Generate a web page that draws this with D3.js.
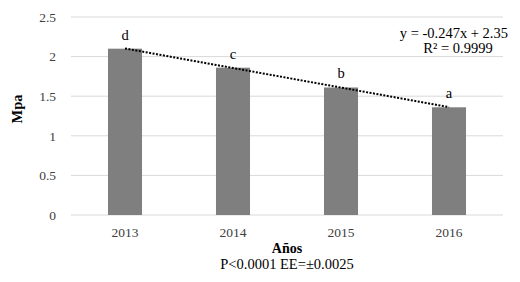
<!DOCTYPE html>
<html>
<head>
<meta charset="utf-8">
<script src="https://cdn.jsdelivr.net/npm/d3@7"></script>
<style>
  body { margin: 0; background: #fff; }
</style>
</head>
<body>
<div id="chart"></div>
<script>
// data
const years = ["2013", "2014", "2015", "2016"];
const mpa = [2.10, 1.86, 1.61, 1.36];
const letters = ["d", "c", "b", "a"];
const yTicks = [0, 0.5, 1, 1.5, 2, 2.5];
const trend = {slope: -0.247, intercept: 2.35};

const serif = "'Liberation Serif', 'DejaVu Serif', 'Times New Roman', serif";

//dimensions
const margin = {top: 17, right: 17, bottom: 67, left: 71},
    width = 520 - margin.left - margin.right,
    height = 282 - margin.top - margin.bottom;

const svg = d3.select("#chart")
    .append("svg")
    .attr("width", 520)
    .attr("height", 282)
    .attr("font-family", serif)
    .append("g")
    .attr("transform", `translate(${margin.left},${margin.top})`);

//scales
const x = d3.scaleBand()
    .domain(years)
    .range([0, width])
    .paddingInner(0.685)
    .paddingOuter(0.3425);

const y = d3.scaleLinear()
    .domain([0, 2.5])
    .range([height, 0]);

//gridlines
svg.append("g")
    .selectAll("line")
    .data(yTicks)
    .join("line")
    .attr("x1", 0)
    .attr("x2", width)
    .attr("y1", d => y(d))
    .attr("y2", d => y(d))
    .attr("stroke", "#d9d9d9")
    .attr("stroke-width", 1);

//y axis
const yAxis = svg.append("g")
    .call(d3.axisLeft(y).tickValues(yTicks).tickSize(0).tickPadding(15).tickFormat(d3.format("")))
    .attr("font-family", serif)
    .attr("font-size", 13.5);
yAxis.select(".domain").remove();
yAxis.selectAll("text").attr("fill", "#404040");

//x axis
const xAxis = svg.append("g")
    .attr("transform", `translate(0, ${height})`)
    .call(d3.axisBottom(x).tickSize(0).tickPadding(12))
    .attr("font-family", serif)
    .attr("font-size", 13.5);
xAxis.select(".domain").remove();
xAxis.selectAll("text").attr("fill", "#404040");

//bars
svg.append("g")
    .selectAll("rect")
    .data(years)
    .join("rect")
    .attr("x", d => x(d))
    .attr("y", (d, i) => y(mpa[i]))
    .attr("width", x.bandwidth())
    .attr("height", (d, i) => height - y(mpa[i]))
    .attr("fill", "#7f7f7f");

//letters
svg.append("g")
    .selectAll("text")
    .data(years)
    .join("text")
    .attr("x", d => x(d) + x.bandwidth() / 2)
    .attr("y", (d, i) => y(mpa[i]) - 9)
    .attr("text-anchor", "middle")
    .attr("font-size", 14.5)
    .attr("fill", "#000")
    .text((d, i) => letters[i]);

//trend line
const trendPts = years.map((d, i) => [x(d) + x.bandwidth() / 2, y(trend.slope * (i + 1) + trend.intercept)]);
svg.append("path")
    .datum(trendPts)
    .attr("d", d3.line())
    .attr("fill", "none")
    .attr("stroke", "#000")
    .attr("stroke-width", 2)
    .attr("stroke-dasharray", "2,1.5");

//equation
svg.append("text")
    .attr("x", width + 5)
    .attr("y", 21)
    .attr("text-anchor", "end")
    .attr("font-size", 14.5)
    .text("y = -0.247x + 2.35");
svg.append("text")
    .attr("x", width - 45)
    .attr("y", 36)
    .attr("text-anchor", "middle")
    .attr("font-size", 14.5)
    .text("R² = 0.9999");

//axis titles
svg.append("text")
    .attr("transform", `translate(-49, ${y(1.25) - 7}) rotate(-90)`)
    .attr("text-anchor", "middle")
    .attr("font-size", 14.5)
    .attr("font-weight", "bold")
    .text("Mpa");

svg.append("text")
    .attr("x", width / 2)
    .attr("y", height + 38)
    .attr("text-anchor", "middle")
    .attr("font-size", 14)
    .attr("font-weight", "bold")
    .text("Años");

svg.append("text")
    .attr("x", width / 2)
    .attr("y", height + 54)
    .attr("text-anchor", "middle")
    .attr("font-size", 14.5)
    .text("P<0.0001 EE=±0.0025");
</script>
</body>
</html>
